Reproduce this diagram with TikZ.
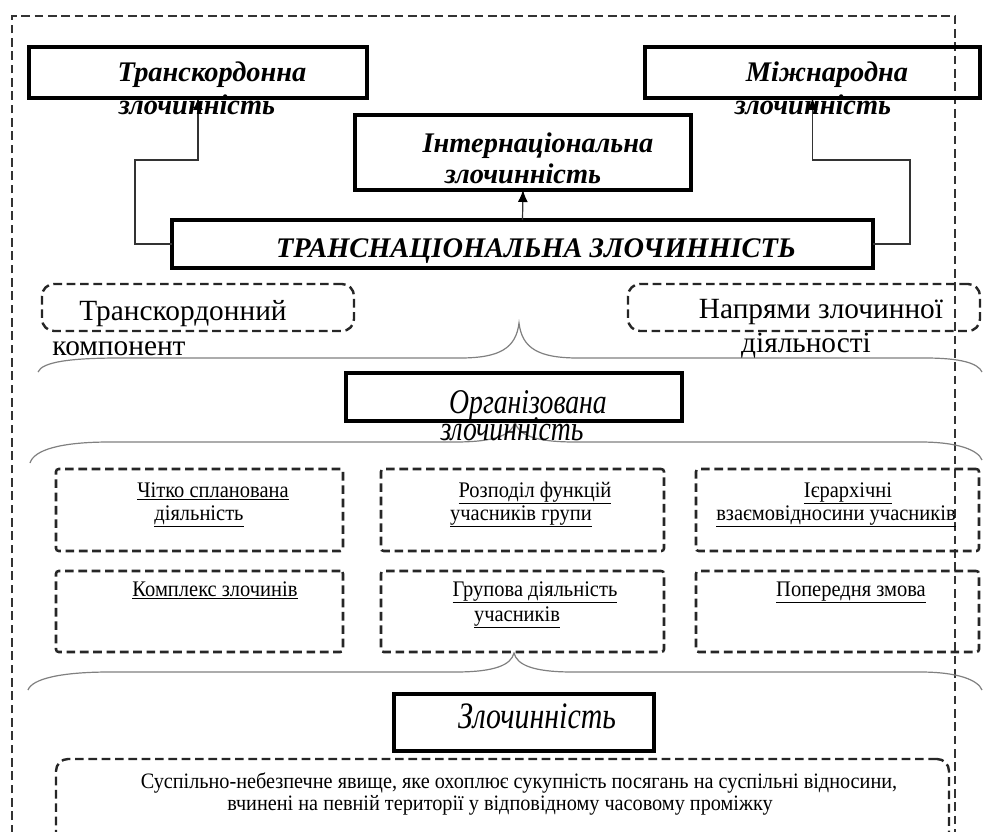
\documentclass[tikz,border=0pt]{standalone}
\usepackage{fontspec}
\setmainfont{Liberation Serif}
\newfontfamily\condf[FakeStretch=0.8]{Liberation Serif}
\newfontfamily\smallf[FakeStretch=0.92]{Liberation Serif}
\usetikzlibrary{arrows.meta}
\newcommand{\mkbox}[6]{%
  \node[#6, minimum width={(#4-#2)*0.75pt}, minimum height={(#5-#3)*0.75pt}] (#1) at ({(#2+#4)/2},{(#3+#5)/2}) {};}
\begin{document}
\begin{tikzpicture}[x=0.75pt,y=-0.75pt,
  thickbox/.style={draw=black, line width=3pt, inner sep=0pt, outer sep=0pt},
  medbox/.style={draw=black, line width=2.4pt, inner sep=0pt, outer sep=0pt},
  dround/.style={draw=black!85, line width=1.8pt, dash pattern=on 6.5pt off 3.5pt, rounded corners=9pt, inner sep=0pt, outer sep=0pt},
  dsq/.style={draw=black!85, line width=1.9pt, dash pattern=on 6.5pt off 3.5pt, rounded corners=2pt, inner sep=0pt, outer sep=0pt},
  frame/.style={draw=black!80, line width=1.1pt, dash pattern=on 6.5pt off 3.5pt},
  brc/.style={draw=black!50, line width=0.9pt},
  conn/.style={draw=black!80, line width=0.9pt, -{Latex[length=9pt,width=7.5pt,fill=black,color=black]}},
  ttl/.style={font=\fontsize{21.3}{24}\selectfont\bfseries\itshape, inner sep=0pt, anchor=base},
  cit/.style={font=\fontsize{26}{30}\selectfont\condf\itshape, inner sep=0pt, anchor=base},
  citbig/.style={font=\fontsize{28}{32}\selectfont\condf\itshape, inner sep=0pt, anchor=base},
  med/.style={font=\fontsize{22}{26}\selectfont, inner sep=0pt, anchor=base},
  sml/.style={font=\fontsize{16.7}{20}\selectfont\smallf, inner sep=0pt, anchor=base},
  btm/.style={font=\fontsize{16.5}{19}\selectfont\smallf, inner sep=0pt, anchor=base}
]
\useasboundingbox (0,0) rectangle (984,831);
\clip (0,0) rectangle (984,831);
\fill[white] (0,0) rectangle (984,831);
% outer frame
\draw[frame] (12,900) -- (12,16) -- (955,16) -- (955,900);
% braces
\draw[brc] (38,372) .. controls (42,362) and (70,358) .. (120,358) -- (460,358) .. controls (500,358) and (516,348) .. (519,323) .. controls (522,348) and (538,358) .. (578,358) -- (925,358) .. controls (960,358) and (978,363) .. (982,372);
\draw[brc] (30,463) .. controls (34,450) and (60,442) .. (110,442) -- (455,442) .. controls (495,442) and (512,435) .. (515,422) .. controls (518,435) and (535,442) .. (575,442) -- (920,442) .. controls (958,442) and (978,450) .. (982,460);
\draw[brc] (28,690) .. controls (32,679) and (60,672) .. (110,672) -- (455,672) .. controls (495,672) and (511,665) .. (514,653) .. controls (517,665) and (533,672) .. (573,672) -- (920,672) .. controls (958,672) and (978,680) .. (982,690);
% thick boxes
\mkbox{tk}{29}{47}{367}{98}{thickbox}
\mkbox{mn}{645}{47}{980}{98}{thickbox}
\mkbox{intern}{355}{115}{691}{190}{thickbox}
\mkbox{trans}{172}{220}{873}{268}{thickbox}
\mkbox{org}{346}{373}{682}{421}{medbox}
\mkbox{zl}{394}{694}{654}{751}{thickbox}
% dashed boxes
\mkbox{trk}{42}{284}{354}{331}{dround}
\mkbox{npr}{628}{284}{980}{331}{dround}
\mkbox{aa}{56}{469}{343}{551}{dsq}
\mkbox{ab}{381}{469}{664}{551}{dsq}
\mkbox{ac}{696}{469}{979}{551}{dsq}
\mkbox{ba}{56}{571}{343}{652}{dsq}
\mkbox{bb}{381}{571}{664}{652}{dsq}
\mkbox{bc}{696}{571}{979}{652}{dsq}
\mkbox{def}{56}{759}{949}{880}{dround}
% connectors
\coordinate (lc) at (135,160);
\coordinate (rc) at (910,160);
\draw[conn] (trans.west) -| (lc) -| (tk.south);
\draw[conn] (trans.east) -| (rc) -| (mn.south);
\draw[conn] (trans.north) -- (intern.south);
% texts
\node[ttl] (tk1) at (212,82) {Транскордонна};
\node[ttl] (tk2) at (197,115) {злочинність};
\node[ttl] (mn1) at (827,82) {Міжнародна};
\node[ttl] (mn2) at (813,115) {злочинність};
\node[ttl] (in1) at (538,152) {Інтернаціональна};
\node[ttl] (in2) at (523,183) {злочинність};
\node[ttl] (tr1) at (536,257) {ТРАНСНАЦІОНАЛЬНА ЗЛОЧИННІСТЬ};
\node[med] (tkc1) at (183,320) {Транскордонний};
\node[med] (tkc2) at (119,355) {компонент};
\node[med] (np1) at (821,318) {Напрями злочинної};
\node[med] (np2) at (806,352) {діяльності};
\node[cit] (or1) at (528,413) {Організована};
\node[cit] (or2) at (512,440) {злочинність};
\node[sml] (t11) at (213,497) {\underline{Чітко спланована}};
\node[sml] (t12) at (199,520) {\underline{діяльність}};
\node[sml] (t21) at (535,497) {\underline{Розподіл функцій}};
\node[sml] (t22) at (521,520) {\underline{учасників групи}};
\node[sml] (t31) at (848,497) {\underline{Ієрархічні}};
\node[sml] (t32) at (836,520) {\underline{взаємовідносини учасників}};
\node[sml] (t41) at (215,596) {\underline{Комплекс злочинів}};
\node[sml] (t51) at (535,596) {\underline{Групова діяльність}};
\node[sml] (t52) at (517,621) {\underline{учасників}};
\node[sml] (t61) at (851,596) {\underline{Попередня змова}};
\node[citbig] (zl1) at (537,728) {Злочинність};
\node[btm] (d1) at (519,788) {Суспільно-небезпечне явище, яке охоплює сукупність посягань на суспільні відносини,};
\node[btm] (d2) at (500,810) {вчинені на певній території у відповідному часовому проміжку};
\end{tikzpicture}
\end{document}
